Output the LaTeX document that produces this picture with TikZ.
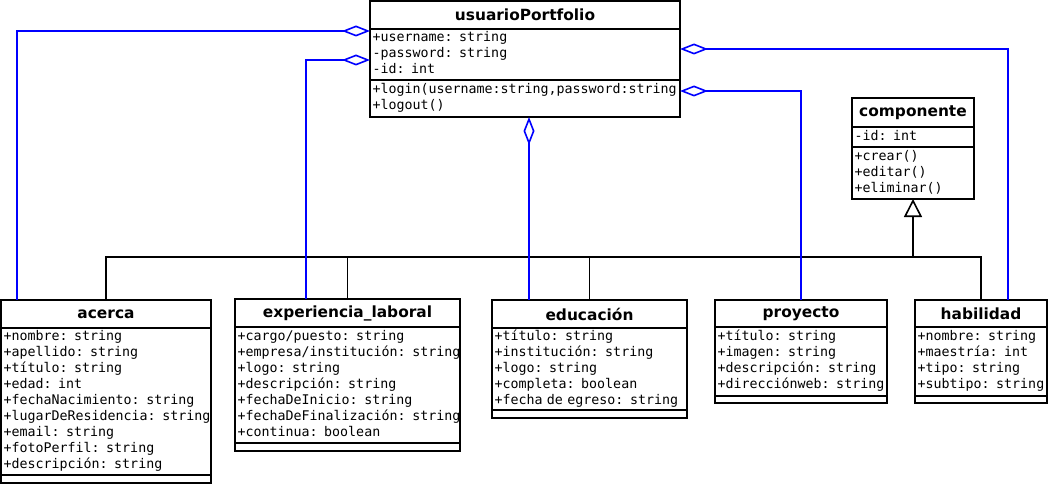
\documentclass[tikz,border=0pt]{standalone}
\usepackage{fontspec}
\setsansfont{DejaVu Sans}
\setmonofont{DejaVu Sans Mono}
\usetikzlibrary{positioning,calc,arrows.meta}

\newcommand{\clsfont}{\fontsize{15.4}{18}\selectfont\sffamily\bfseries}
\newcommand{\rowfont}{\fontsize{13.3}{16}\selectfont\ttfamily}

\tikzset{
  clsname/.style={draw, line width=1.6pt, inner sep=0pt, outer sep=0pt,
    minimum height=28pt, font=\clsfont},
  clsbody/.style={draw, line width=1.6pt, inner xsep=2.5pt, inner ysep=1pt,
    outer sep=0pt, align=left, font=\rowfont},
  agg/.style={blue, line width=1.6pt, {Diamond[open,length=28pt,width=11pt]}-},
  gen/.style={line width=1.6pt, -{Triangle[open,length=18pt,width=18pt]}},
  inh/.style={line width=1.6pt}
}

\begin{document}
\begin{tikzpicture}[x=1pt, y=-1pt]
\useasboundingbox (0,0) rectangle (1050,484);
%% --- usuarioPortfolio ---
\node[clsname, minimum width=310pt, anchor=north west] (usuario) at (370,1) {usuarioPortfolio};
\node[clsbody, text width=305pt, minimum height=51pt, below=0pt of usuario] (usuario-a)
  {\begin{tabular}{@{}l@{}}+username: string\\-password: string\\-id: int\end{tabular}};
\node[clsbody, text width=305pt, minimum height=37pt, below=0pt of usuario-a] (usuario-o)
  {\begin{tabular}{@{}l@{}}+login(username:string,password:string\\+logout()\end{tabular}};
%% --- componente ---
\node[clsname, minimum width=122pt, minimum height=29pt, anchor=north west] (componente) at (852,98) {componente};
\node[clsbody, text width=117pt, minimum height=20pt, below=0pt of componente] (componente-a)
  {\begin{tabular}{@{}l@{}}-id: int\end{tabular}};
\node[clsbody, text width=117pt, minimum height=52pt, below=0pt of componente-a] (componente-o)
  {\begin{tabular}{@{}l@{}}+crear()\\+editar()\\+eliminar()\end{tabular}};
%% --- acerca ---
\node[clsname, minimum width=210pt, anchor=north west] (acerca) at (1,300) {acerca};
\node[clsbody, text width=205pt, minimum height=147pt, below=0pt of acerca] (acerca-a)
  {\begin{tabular}{@{}l@{}}+nombre: string\\+apellido: string\\+título: string\\+edad: int\\
   +fechaNacimiento: string\\+lugarDeResidencia: string\\+email: string\\+fotoPerfil: string\\
   +descripción: string\end{tabular}};
\node[clsbody, text width=205pt, minimum height=8pt, below=0pt of acerca-a] (acerca-o) {};
%% --- experiencia_laboral ---
\node[clsname, minimum width=225pt, anchor=north west] (exp) at (235,299) {experiencia\_laboral};
\node[clsbody, text width=220pt, minimum height=116pt, below=0pt of exp] (exp-a)
  {\begin{tabular}{@{}l@{}}+cargo/puesto: string\\+empresa/institución: string\\+logo: string\\
   +descripción: string\\+fechaDeInicio: string\\+fechaDeFinalización: string\\
   +continua: boolean\end{tabular}};
\node[clsbody, text width=220pt, minimum height=8pt, below=0pt of exp-a] (exp-o) {};
%% --- educación ---
\node[clsname, minimum width=195pt, anchor=north west] (edu) at (492,300) {educación};
\node[clsbody, text width=190pt, minimum height=82pt, below=0pt of edu] (edu-a)
  {\begin{tabular}{@{}l@{}}+título: string\\+institución: string\\+logo: string\\
   +completa: boolean\\+fecha de egreso: string\end{tabular}};
\node[clsbody, text width=190pt, minimum height=8pt, below=0pt of edu-a] (edu-o) {};
%% --- proyecto ---
\node[clsname, minimum width=172pt, minimum height=27pt, anchor=north west] (proy) at (715,300) {proyecto};
\node[clsbody, text width=167pt, minimum height=69pt, below=0pt of proy] (proy-a)
  {\begin{tabular}{@{}l@{}}+título: string\\+imagen: string\\+descripción: string\\
   +direcciónweb: string\end{tabular}};
\node[clsbody, text width=167pt, minimum height=7pt, below=0pt of proy-a] (proy-o) {};
%% --- habilidad ---
\node[clsname, minimum width=132pt, minimum height=27pt, anchor=north west] (hab) at (915,300) {habilidad};
\node[clsbody, text width=127pt, minimum height=69pt, below=0pt of hab] (hab-a)
  {\begin{tabular}{@{}l@{}}+nombre: string\\+maestría: int\\+tipo: string\\
   +subtipo: string\end{tabular}};
\node[clsbody, text width=127pt, minimum height=7pt, below=0pt of hab-a] (hab-o) {};
%% --- generalization ---
\coordinate (gj) at ($(componente-o.south)+(0,58)$);
\draw[gen] (gj) -- (componente-o.south);
\draw[inh] (acerca.north) |- (gj) -| (hab.north);
\draw[inh] (exp.north) -- (exp.north |- gj);
\draw[inh] (edu.north) -- (edu.north |- gj);
%% --- aggregations ---
\coordinate (uA) at ($(usuario.south west)+(0,2)$);
\coordinate (uB) at ($(usuario-a.west)+(0,5.5)$);
\coordinate (uC) at ($(usuario-o.south)+(4,0)$);
\coordinate (uD) at ($(usuario-o.north east)+(0,11)$);
\coordinate (uE) at ($(usuario-a.north east)+(0,20)$);
\draw[agg] (uA) -| ($(acerca.north west)+(16,0)$);
\draw[agg] (uB) -| ($(exp.north west)+(71,0)$);
\draw[agg] (uC) -- (uC |- edu.north);
\draw[agg] (uD) -| (proy.north);
\draw[agg] (uE) -| ($(hab.north west)+(93,0)$);
\end{tikzpicture}
\end{document}
